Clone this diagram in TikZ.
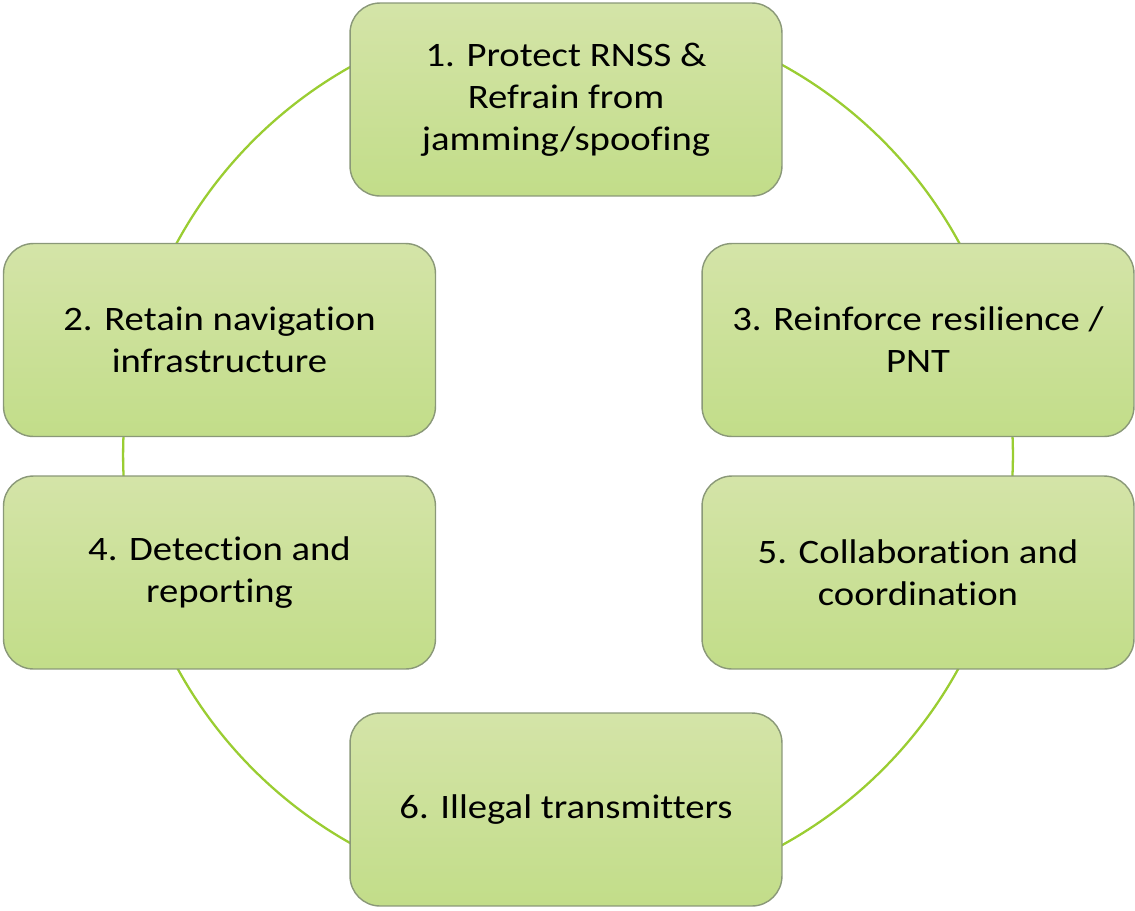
\documentclass[tikz,border=0pt]{standalone}
\usepackage{fontspec}
\setmainfont[Ligatures=NoCommon,FakeStretch=1.13]{Carlito}
\usetikzlibrary{calc}
\definecolor{BoxTopClr}{RGB}{212,228,168}
\definecolor{BoxBotClr}{RGB}{194,221,137}
\definecolor{BoxLineClr}{RGB}{138,152,120}
\definecolor{RingClr}{RGB}{154,205,50}

\tikzset{
  stage/.style={rectangle,rounded corners=0.6cm,draw=BoxLineClr,line width=0.8pt,
    top color=BoxTopClr,bottom color=BoxBotClr,minimum width=8.64cm,minimum height=3.86cm,
    align=center,font=\fontsize{19.5}{24}\selectfont,inner sep=0pt}
}

\begin{document}
\begin{tikzpicture}[x=0.02cm,y=-0.02cm]
\useasboundingbox (0,0) rectangle (1135,910);

\coordinate (ring) at (568,455);

% Ring behind the boxes.
\draw[RingClr,line width=1.3pt] (ring) circle[radius=8.9cm];

% Stages.
\node[stage] (protect) at (566,99.5) {1. Protect RNSS \&\\Refrain from\\jamming/spoofing};
\node[stage] (retain) at (219.5,340) {2. Retain navigation\\infrastructure};
\node[stage] (reinforce) at (918,340) {3. Reinforce resilience /\\PNT};
\node[stage] (detect) at (219.5,572.5) {4. Detection and\\reporting};
\node[stage] (collab) at (918,572.5) {5. Collaboration and\\coordination};
\node[stage] (illegal) at (566,809.5) {6. Illegal transmitters};

\end{tikzpicture}
\end{document}
